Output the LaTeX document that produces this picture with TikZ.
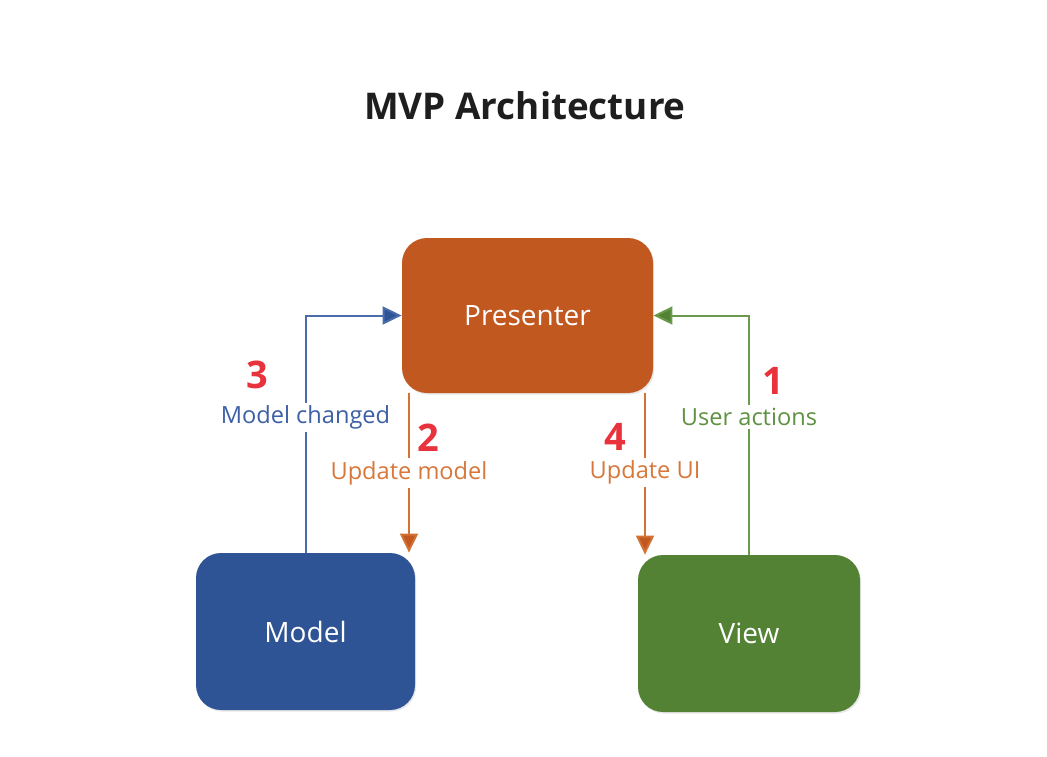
\documentclass[tikz,border=0pt]{standalone}
\usepackage{fontspec}
\setmainfont{Open Sans}
\usetikzlibrary{arrows.meta,shadows}
\definecolor{presfill}{HTML}{C1581F}
\definecolor{modelfill}{HTML}{2F5496}
\definecolor{viewfill}{HTML}{548235}
\definecolor{numred}{HTML}{E8323C}
\definecolor{blueline}{HTML}{4A6CAB}
\definecolor{greenline}{HTML}{6A9A4C}
\definecolor{orangeline}{HTML}{D27234}
\definecolor{bluetext}{HTML}{3D5FA5}
\definecolor{greentext}{HTML}{5E9140}
\definecolor{orangetext}{HTML}{D8773A}
\definecolor{titlegray}{HTML}{1E1E1E}
\tikzset{
  box/.style={rounded corners=12.5pt, text=white, font=\fontsize{14}{16}\selectfont,
    inner sep=0pt, drop shadow={shadow xshift=0.6pt, shadow yshift=-0.8pt, opacity=0.18}},
  conn/.style={line width=1pt},
  lbl/.style={fill=white, inner sep=1.5pt, font=\fontsize{11.8}{13}\selectfont},
  num/.style={text=numred, font=\fontsize{19}{21}\selectfont\bfseries},
}
\begin{document}
\begin{tikzpicture}[x=0.5pt,y=-0.5pt]
\useasboundingbox[fill=white] (0,0) rectangle (1047,756);
\node[font=\fontsize{18.4}{21}\selectfont\bfseries, text=titlegray] (title) at (525,106) {MVP Architecture};

\node[box, fill=presfill, minimum width=125.5pt, minimum height=77.5pt] (presenter) at (527.5,315.5) {Presenter};
\node[box, fill=modelfill, minimum width=109.5pt, minimum height=78.5pt] (model) at (305.5,631.5) {Model};
\node[box, fill=viewfill, minimum width=111pt, minimum height=78.5pt] (view) at (749,633.5) {View};

\coordinate (x2) at (409,0);
\coordinate (x4) at (645,0);

% 3 Model changed
\draw[conn, draw=blueline, -{Triangle[length=9.5pt,width=9pt,fill=modelfill]}] (model.north) |- (presenter.west)
  node[pos=0.285, lbl, text=bluetext] (lmc) {Model changed};
% 1 User actions
\draw[conn, draw=greenline, -{Triangle[length=9.5pt,width=9pt,fill=viewfill]}] (view.north) |- (presenter.east)
  node[pos=0.288, lbl, text=greentext] (lua) {User actions};
% 2 Update model
\draw[conn, draw=orangeline, -{Triangle[length=9.5pt,width=9pt,fill=presfill]}] (presenter.south -| x2) -- (model.north -| x2)
  node[pos=0.5, lbl, text=orangetext] (lum) {Update model};
% 4 Update UI
\draw[conn, draw=orangeline, -{Triangle[length=9.5pt,width=9pt,fill=presfill]}] (presenter.south -| x4) -- (view.north -| x4)
  node[pos=0.49, lbl, text=orangetext] (lui) {Update UI};

\node[num] (n3) at (257,375) {3};
\node[num] (n2) at (428,438) {2};
\node[num] (n4) at (615,437) {4};
\node[num] (n1) at (773,381) {1};
\end{tikzpicture}
\end{document}
